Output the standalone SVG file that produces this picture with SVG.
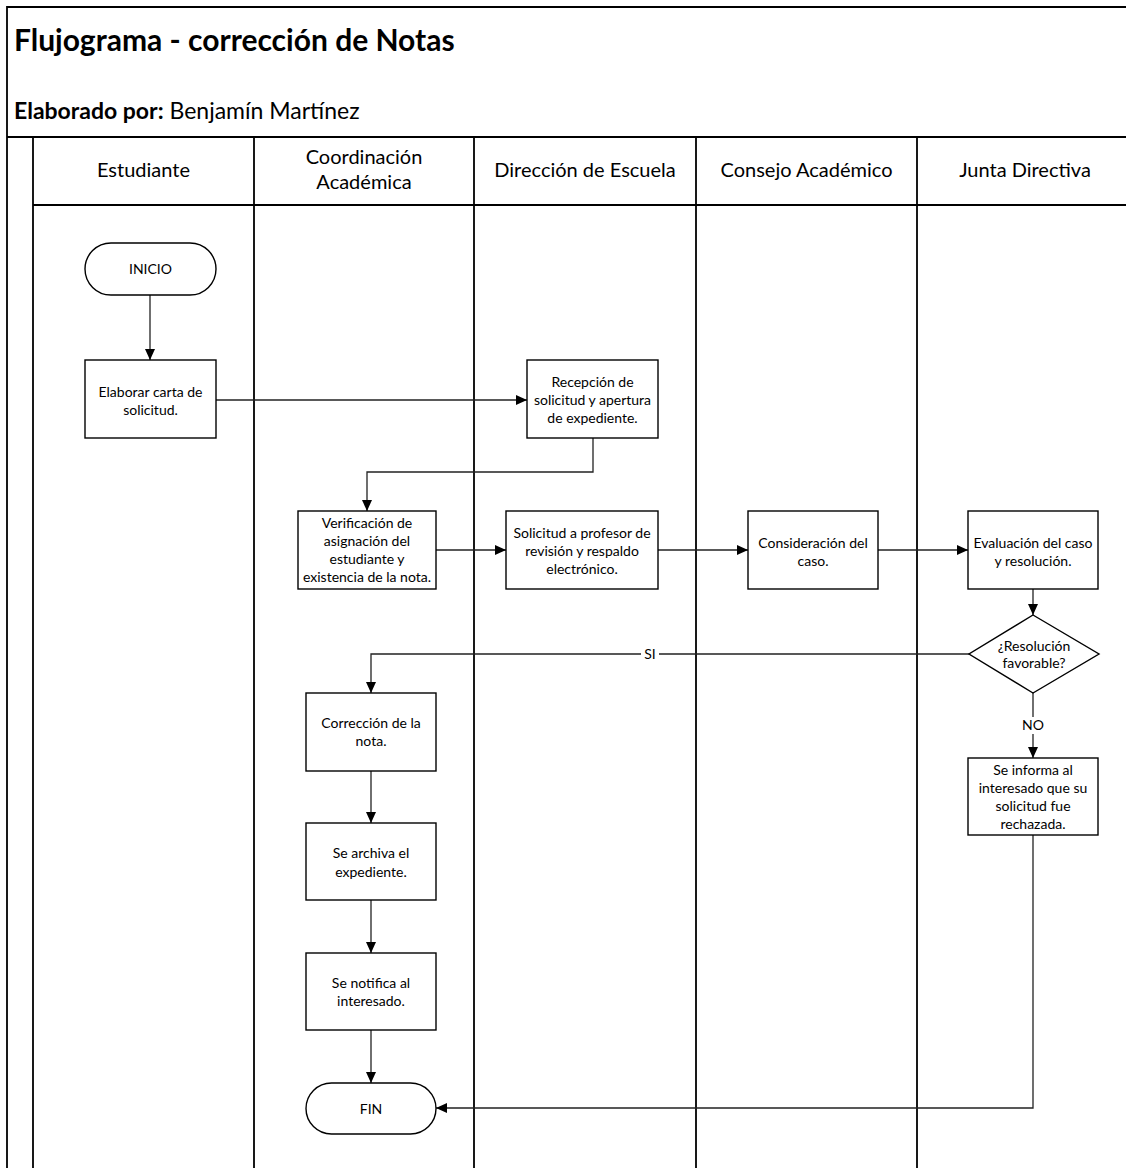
<svg xmlns="http://www.w3.org/2000/svg" width="1126" height="1168" viewBox="0 0 1126 1168">
  <style>
    .frame { fill: none; stroke: #000; stroke-width: 1.8; }
    .title { font-family: Lato, "Open Sans", sans-serif; font-weight: bold; font-size: 30px; fill: #000; }
    .author { font-family: Lato, "Open Sans", sans-serif; font-size: 23px; fill: #000; }
    .lane { font-family: Lato, "Open Sans", sans-serif; font-size: 20px; fill: #000; text-anchor: middle; }
    .box { fill: #fff; stroke: #000; stroke-width: 1.4; }
    .lbl { font-family: Lato, "Open Sans", sans-serif; font-size: 14px; fill: #000; text-anchor: middle; }
    .wire { fill: none; stroke: #222; stroke-width: 1.3; }
  </style>
  <defs>
    <marker id="arrow" markerUnits="userSpaceOnUse" markerWidth="11" markerHeight="10" refX="11" refY="5" orient="auto">
      <path d="M0,0 L11,5 L0,10 z" fill="#000"/>
    </marker>
  </defs>

  <rect width="1126" height="1168" fill="#fff"/>

  <!-- title block -->
  <g id="header">
    <path class="frame" d="M7,1170 V7 H1130 M7,137 H1130"/>
    <text class="title" x="14" y="51">Flujograma - corrección de Notas</text>
    <text class="author" x="14" y="119"><tspan font-weight="bold">Elaborado por:</tspan> Benjamín Martínez</text>
  </g>

  <!-- swimlanes -->
  <g id="lanes">
    <path class="frame" d="M33,137 V1170 M254,137 V1170 M474,137 V1170 M696,137 V1170 M917,137 V1170 M33,205 H1130"/>
    <text class="lane" x="143.5" y="177">Estudiante</text>
    <text class="lane" x="364" y="164">Coordinación</text>
    <text class="lane" x="364" y="189">Académica</text>
    <text class="lane" x="585" y="177">Dirección de Escuela</text>
    <text class="lane" x="806.5" y="177">Consejo Académico</text>
    <text class="lane" x="1025" y="177">Junta Directiva</text>
  </g>

  <!-- connectors -->
  <g id="connectors">
    <path class="wire" d="M150,295 V360" marker-end="url(#arrow)"/>
    <path class="wire" d="M216,400 H527" marker-end="url(#arrow)"/>
    <path class="wire" d="M593,438 V472 H367 V511" marker-end="url(#arrow)"/>
    <path class="wire" d="M436,550 H506" marker-end="url(#arrow)"/>
    <path class="wire" d="M658,550 H748" marker-end="url(#arrow)"/>
    <path class="wire" d="M878,550 H968" marker-end="url(#arrow)"/>
    <path class="wire" d="M1033,589 V615" marker-end="url(#arrow)"/>
    <path class="wire" d="M969,654 H371 V693" marker-end="url(#arrow)"/>
    <path class="wire" d="M371,771 V823" marker-end="url(#arrow)"/>
    <path class="wire" d="M371,900 V953" marker-end="url(#arrow)"/>
    <path class="wire" d="M371,1030 V1083" marker-end="url(#arrow)"/>
    <path class="wire" d="M1033,693 V758" marker-end="url(#arrow)"/>
    <path class="wire" d="M1033,835 V1108 H436" marker-end="url(#arrow)"/>
    <rect x="641" y="646" width="18" height="16" fill="#fff"/>
    <text class="lbl" x="650" y="659">SI</text>
    <rect x="1021" y="717" width="24" height="17" fill="#fff"/>
    <text class="lbl" x="1033" y="730">NO</text>
  </g>

  <!-- nodes -->
  <g id="inicio">
    <rect class="box" x="85" y="243" width="131" height="52" rx="26"/>
    <text class="lbl" x="150.5" y="274">INICIO</text>
  </g>
  <g id="elaborar">
    <rect class="box" x="85" y="360" width="131" height="78"/>
    <text class="lbl" x="150.5" y="396.5">Elaborar carta de</text>
    <text class="lbl" x="150.5" y="414.5">solicitud.</text>
  </g>
  <g id="recepcion">
    <rect class="box" x="527" y="360" width="131" height="78"/>
    <text class="lbl" x="592.5" y="387">Recepción de</text>
    <text class="lbl" x="592.5" y="405">solicitud y apertura</text>
    <text class="lbl" x="592.5" y="423">de expediente.</text>
  </g>
  <g id="verificacion">
    <rect class="box" x="298" y="511" width="138" height="78"/>
    <text class="lbl" x="367" y="528">Verificación de</text>
    <text class="lbl" x="367" y="546">asignación del</text>
    <text class="lbl" x="367" y="564">estudiante y</text>
    <text class="lbl" x="367" y="582">existencia de la nota.</text>
  </g>
  <g id="solicitud-profesor">
    <rect class="box" x="506" y="511" width="152" height="78"/>
    <text class="lbl" x="582" y="538">Solicitud a profesor de</text>
    <text class="lbl" x="582" y="556">revisión y respaldo</text>
    <text class="lbl" x="582" y="573.5">electrónico.</text>
  </g>
  <g id="consideracion">
    <rect class="box" x="748" y="511" width="130" height="78"/>
    <text class="lbl" x="813" y="548">Consideración del</text>
    <text class="lbl" x="813" y="566">caso.</text>
  </g>
  <g id="evaluacion">
    <rect class="box" x="968" y="511" width="130" height="78"/>
    <text class="lbl" x="1033" y="548">Evaluación del caso</text>
    <text class="lbl" x="1033" y="566">y resolución.</text>
  </g>
  <g id="decision">
    <polygon class="box" points="1033,615 1099,654 1033,693 969,654"/>
    <text class="lbl" x="1034" y="651">¿Resolución</text>
    <text class="lbl" x="1034" y="668">favorable?</text>
  </g>
  <g id="rechazo">
    <rect class="box" x="968" y="758" width="130" height="77"/>
    <text class="lbl" x="1033" y="775">Se informa al</text>
    <text class="lbl" x="1033" y="793">interesado que su</text>
    <text class="lbl" x="1033" y="811">solicitud fue</text>
    <text class="lbl" x="1033" y="829">rechazada.</text>
  </g>
  <g id="correccion">
    <rect class="box" x="306" y="693" width="130" height="78"/>
    <text class="lbl" x="371" y="728">Corrección de la</text>
    <text class="lbl" x="371" y="746">nota.</text>
  </g>
  <g id="archiva">
    <rect class="box" x="306" y="823" width="130" height="77"/>
    <text class="lbl" x="371" y="858">Se archiva el</text>
    <text class="lbl" x="371" y="876.5">expediente.</text>
  </g>
  <g id="notifica">
    <rect class="box" x="306" y="953" width="130" height="77"/>
    <text class="lbl" x="371" y="988">Se notifica al</text>
    <text class="lbl" x="371" y="1006">interesado.</text>
  </g>
  <g id="fin">
    <rect class="box" x="306" y="1083" width="130" height="51" rx="25.5"/>
    <text class="lbl" x="371" y="1113.5">FIN</text>
  </g>
</svg>
